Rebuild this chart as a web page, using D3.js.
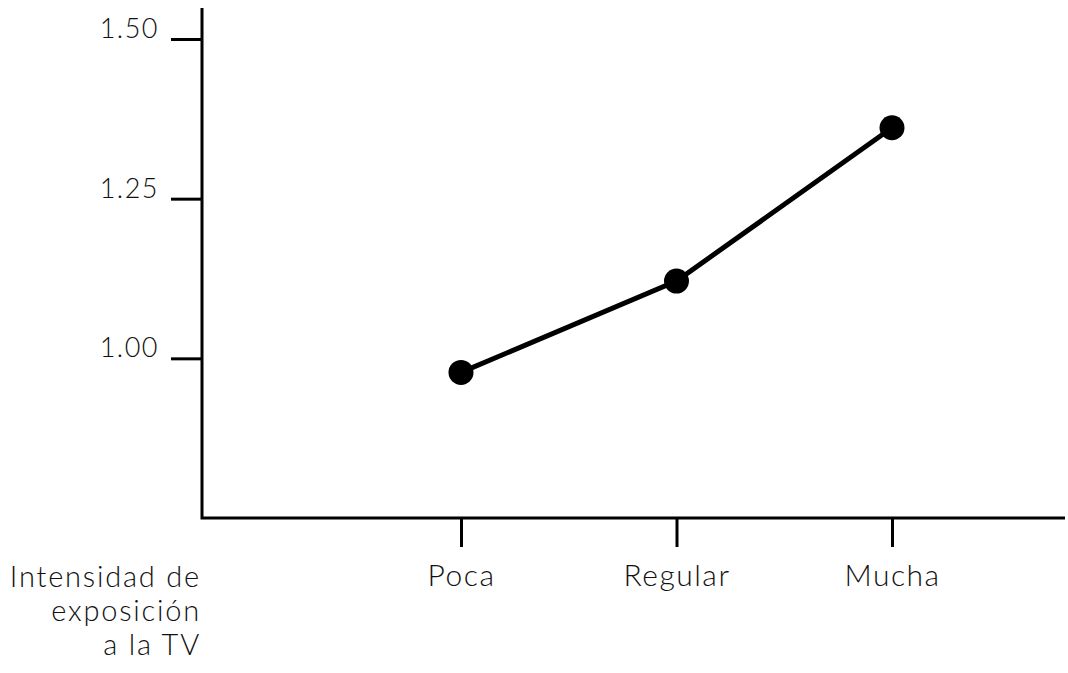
<!DOCTYPE html>
<html>
<head>
<meta charset="utf-8">
<style>
  body{margin:0;background:#fff}
  .chart text{fill:#111;font-family:Lato,"Open Sans",sans-serif;font-weight:300}
  .chart .axis path,
  .chart .axis line{stroke:#000;stroke-width:3px;fill:none}
</style>
</head>
<body>
<div id="chart"></div>
<script src="https://d3js.org/d3.v7.min.js"></script>
<script>
var categories = ['Poca', 'Regular', 'Mucha'];
var values     = [0.978, 1.121, 1.361];
var yTicks     = [1.00, 1.25, 1.50];
var yLabels    = ['1.00', '1.25', '1.50'];
var titleLines = ['Intensidad de', 'exposición', 'a la TV'];

(function () {
  var
    width  = 1068,
    height = 673,
    x0     = 202,     // y axis position
    xEnd   = 1065,
    yTop   = 8,
    yBot   = 518;

  var xScale = d3.scalePoint()
    .domain(categories)
    .range([461, 892]);

  var yScale = d3.scaleLinear()
    .domain([0.75, 1.50])
    .range([yBot, 39]);

  var svg = d3.select('#chart').append('svg')
    .attr('class', 'chart')
    .attr('width', width)
    .attr('height', height);

  // axes lines
  svg.append('path')
    .attr('d', 'M' + x0 + ',' + yTop + 'V' + yBot + 'H' + xEnd)
    .style('stroke', '#000')
    .style('stroke-width', '3px')
    .style('fill', 'none');

  // y axis ticks
  var yAxis = d3.axisLeft(yScale)
    .tickValues(yTicks)
    .tickSize(31)
    .tickPadding(12)
    .tickFormat(function (d, i) { return yLabels[i]; });

  var gy = svg.append('g')
    .attr('class', 'axis')
    .attr('transform', 'translate(' + x0 + ',0)')
    .call(yAxis);
  gy.select('.domain').remove();
  gy.selectAll('text')
    .attr('dy', '-0.06em')
    .style('font-size', '27px')
    .style('letter-spacing', '1.5px');

  // x axis ticks
  var xAxis = d3.axisBottom(xScale)
    .tickSize(29)
    .tickPadding(18);

  var gx = svg.append('g')
    .attr('class', 'axis')
    .attr('transform', 'translate(0,' + yBot + ')')
    .call(xAxis);
  gx.select('.domain').remove();
  gx.selectAll('text')
    .style('font-size', '30px')
    .style('letter-spacing', '1.5px');

  // axis title
  svg.append('text')
    .attr('text-anchor', 'end')
    .style('font-size', '29px')
    .style('letter-spacing', '1.8px')
    .selectAll('tspan')
    .data(titleLines)
    .enter().append('tspan')
      .attr('x', 201)
      .attr('y', function (d, i) { return 587 + i * 34; })
      .text(function (d) { return d; });

  // line
  var line = d3.line()
    .x(function (d, i) { return xScale(categories[i]); })
    .y(function (d) { return yScale(d); });

  svg.append('path')
    .datum(values)
    .attr('d', line)
    .style('stroke', '#000')
    .style('stroke-width', '5px')
    .style('fill', 'none');

  svg.selectAll('circle.dot')
    .data(values)
    .enter().append('circle')
      .attr('class', 'dot')
      .attr('cx', function (d, i) { return xScale(categories[i]); })
      .attr('cy', function (d) { return yScale(d); })
      .attr('r', 12.5)
      .style('fill', '#000');
})();
</script>
</body>
</html>
